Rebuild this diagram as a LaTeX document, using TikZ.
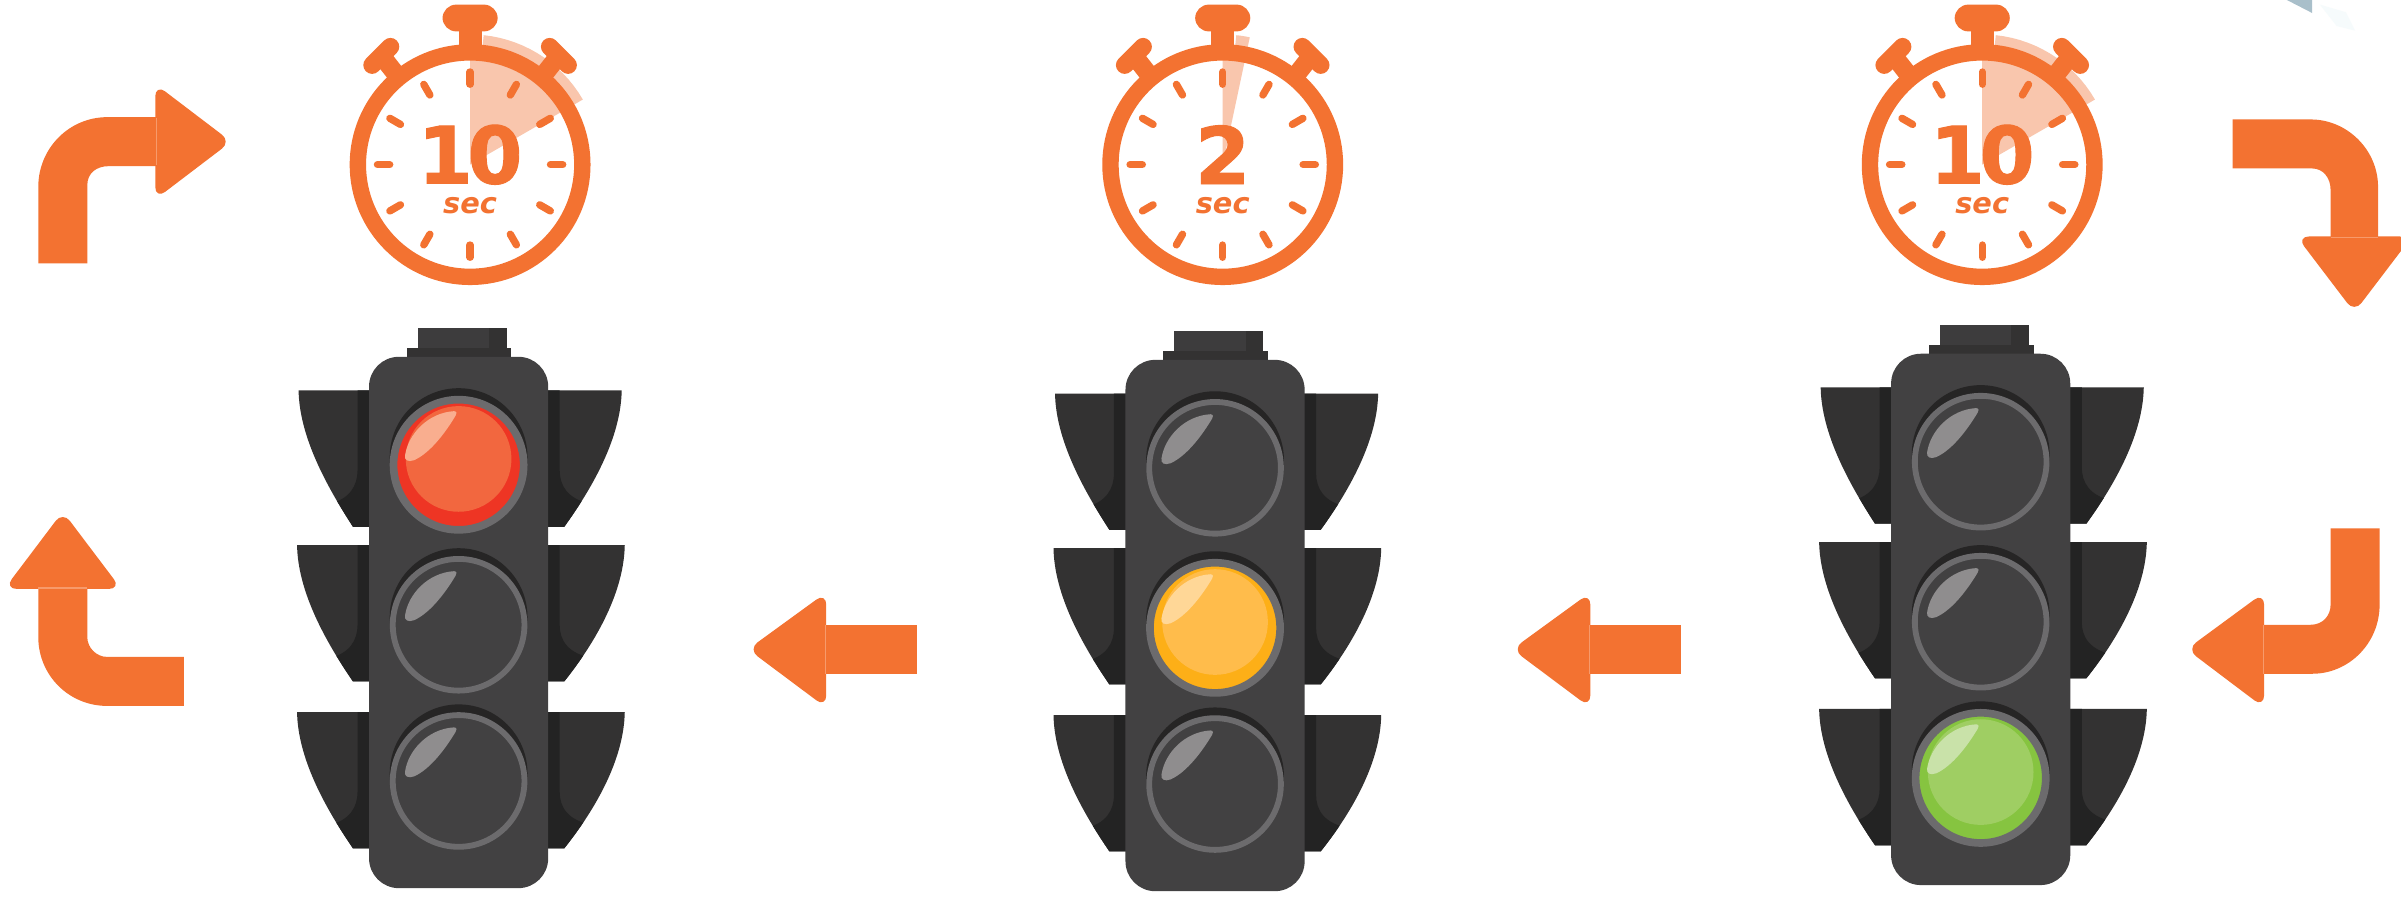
\documentclass[tikz,border=0pt]{standalone}
\usepackage{fontspec}
\newfontfamily\numfont[FakeBold=1.2]{DejaVu Sans Bold}
\newfontfamily\secfont{DejaVu Sans Bold Oblique}
\definecolor{org}{HTML}{F37231}
\definecolor{orgl}{HTML}{F9C6AD}
\definecolor{seamc}{HTML}{F79A6B}
\definecolor{bodyc}{HTML}{424142}
\definecolor{visorc}{HTML}{333232}
\definecolor{visord}{HTML}{232323}
\definecolor{capc}{HTML}{3D3C3D}
\definecolor{ringc}{HTML}{6C6B6D}
\definecolor{shadec}{HTML}{262525}
\definecolor{glint}{HTML}{8F8D8E}
\definecolor{redrim}{HTML}{EE3524}
\definecolor{redin}{HTML}{F2673F}
\definecolor{redgl}{HTML}{F9AE8F}
\definecolor{yelrim}{HTML}{FDAF17}
\definecolor{yelin}{HTML}{FFBC4B}
\definecolor{yelgl}{HTML}{FFD797}
\definecolor{grnrim}{HTML}{86C440}
\definecolor{grnin}{HTML}{9FCE63}
\definecolor{grngl}{HTML}{C9E2A9}
\definecolor{cornerc}{HTML}{A9BFCA}
\definecolor{cornerl}{HTML}{F6FBFC}
\def\uu{0.015313cm}
\tikzset{
  headshape/.style={fill=org,draw=org,line width=0.5pt,rounded corners=3pt,line join=round},
  seamline/.style={draw=seamc,line width=0.35pt},
  ticks/.style={draw=org,line width=4.8*\uu,line cap=round},
  knobs/.style={draw=org,line width=11.5*\uu,line cap=round},
  stems/.style={draw=org,line width=12*\uu},
}
% #1 top y, #2 outer x, #3 side (1 or -1)
\newcommand{\myvisor}[3]{%
  \begin{scope}[xscale=#3]
    \fill[visorc] (58,#1) -- (#2,#1) .. controls (#2-0.5,#1+30) and (#2-18,#1+62) .. (69,#1+89) -- (58,#1+89) -- cycle;
    \begin{scope}
      \clip (58,#1) -- (#2,#1) .. controls (#2-0.5,#1+30) and (#2-18,#1+62) .. (69,#1+89) -- (58,#1+89) -- cycle;
      \fill[visord] (58,#1) -- (66,#1) -- (66,#1+52) .. controls (66,#1+62) and (71,#1+71) .. (#2-20,#1+74) -- (#2-20,#1+95) -- (58,#1+95) -- cycle;
    \end{scope}
  \end{scope}}
\newcommand{\myglint}[1]{%
  \fill[#1] (-35,-6) .. controls (-33,-20) and (-20,-34) .. (-3,-35) .. controls (-1,-35) and (-1,-33) .. (-2,-32) .. controls (-8,-22) and (-18,-8) .. (-29,-3) .. controls (-33,-1.5) and (-35.5,-3) .. (-35,-6) -- cycle;
}
\newcommand{\mylampoff}[1]{%
  \begin{scope}[shift={(0,#1)}]
    \fill[shadec] (0,-5) circle[radius=45];
    \fill[bodyc] (0,0) circle[radius=44.5];
    \draw[ringc,line width=3.8*\uu] (0,0) circle[radius=43];
    \myglint{glint}
  \end{scope}}
\newcommand{\mylampon}[4]{%
  \begin{scope}[shift={(0,#1)}]
    \fill[shadec] (0,-5) circle[radius=45];
    \fill[#2] (0,0) circle[radius=41];
    \draw[ringc,line width=5*\uu] (0,0) circle[radius=42.5];
    \fill[#3] (0,-3.8) circle[radius=34.5];
    \myglint{#4}
  \end{scope}}
\newcommand{\mylightbase}{%
  \myvisor{255}{106.5}{1}\myvisor{255}{104.5}{-1}
  \myvisor{356}{108.5}{1}\myvisor{356}{105.5}{-1}
  \myvisor{465}{108.5}{1}\myvisor{465}{105.5}{-1}
  \fill[capc] (-26.5,214) rectangle (31.5,229);
  \fill[visorc] (20,214) rectangle (31.5,229);
  \fill[visorc] (-34,227) rectangle (34.5,235);
  \fill[bodyc,rounded corners=8.5pt] (-58.5,233) -- (58.5,233) -- (58.5,580) -- (-58.5,580) -- cycle;
}
% #1 x of centre, #2 number, #3 band start angle, #4 end angle, #5 name
\newcommand{\mywatch}[5]{%
  \begin{scope}[shift={(#1,107.5)}]
    \fill[orgl] plot[domain=#3:#4,samples=16] ({85*cos(\x)},{85*sin(\x)}) -- plot[domain=#4:#3,samples=16] ({76*cos(\x)},{76*sin(\x)}) -- cycle;
    \fill[orgl] (0,0) -- plot[domain=-90:#4,samples=16] ({70*cos(\x)},{70*sin(\x)}) -- cycle;
    \fill[org,rounded corners=3.9pt] (-18,-104.5) rectangle (18,-87);
    \fill[org] (-7.5,-90) rectangle (7.5,-72);
    \draw[stems] (-46,-56) -- (-57,-70);
    \draw[stems] (46,-56) -- (57,-70);
    \draw[knobs] (-52,-77) -- (-64,-65);
    \draw[knobs] (52,-77) -- (64,-65);
    \draw[org,line width=10.7*\uu] (0,0) circle[radius=73.3];
    \foreach \a in {0,30,...,330}{
      \draw[ticks] ({52.5*cos(\a)},{52.5*sin(\a)}) -- ({60.5*cos(\a)},{60.5*sin(\a)});
    }
    \node[text=org,inner sep=0pt,font=\numfont\fontsize{22.5}{24}\selectfont] (num#5) at (0,-6.5) {#2};
    \node[text=org,inner sep=0pt,font=\secfont\fontsize{8.2}{9}\selectfont] (sec#5) at (0,27) {sec};
  \end{scope}}
\begin{document}
\begin{tikzpicture}[x=\uu,y=-\uu]
\useasboundingbox (0,0) rectangle (1568,586.4);
\clip (0,0) rectangle (1568,586.4);
\fill[white] (0,0) rectangle (1568,586.4);
% corner remnant
\fill[cornerl] (1515,3) -- (1532,8) -- (1538,20) -- (1526,17) -- cycle;
\fill[cornerc] (1493.5,0) -- (1510,0) -- (1510,8.5) -- cycle;
% traffic lights
\begin{scope}[shift={(299.5,0)}]
  \mylightbase
  \mylampon{303.5}{redrim}{redin}{redgl}
  \mylampoff{408}
  \mylampoff{510}
\end{scope}
\begin{scope}[shift={(793.5,2)}]
  \mylightbase
  \mylampoff{303.5}
  \mylampon{408}{yelrim}{yelin}{yelgl}
  \mylampoff{510}
\end{scope}
\begin{scope}[shift={(1293.5,-2)}]
  \mylightbase
  \mylampoff{303.5}
  \mylampoff{408}
  \mylampon{510}{grnrim}{grnin}{grngl}
\end{scope}
% stopwatches
\mywatch{307}{1\kern-1.5pt 0}{-84}{-30}{a}
\mywatch{798.5}{2}{-84}{-78}{b}
\mywatch{1294.5}{1\kern-1.5pt 0}{-84}{-30}{c}
% elbow arrows
\fill[org] (25,172) -- (25,122) .. controls (25,97) and (45,76.5) .. (70,76.5) -- (102,76.5) -- (102,108.5) -- (71,108.5) .. controls (63,108.5) and (57,113) .. (57,121) -- (57,172) -- cycle;
\filldraw[headshape] (102,56) -- (150,92.5) -- (102,129) -- cycle;
\draw[seamline] (102,77) -- (102,108);
\fill[org] (1458,78) -- (1509,78) .. controls (1533,78) and (1553,98) .. (1553,122) -- (1553,155) -- (1522,155) -- (1522,124) .. controls (1522,116) and (1517,110) .. (1510,110) -- (1458,110) -- cycle;
\filldraw[headshape] (1501,155) -- (1574,155) -- (1537.5,203) -- cycle;
\draw[seamline] (1522,155) -- (1553,155);
\fill[org] (1522,345) -- (1554,345) -- (1554,395) .. controls (1554,420) and (1534,440) .. (1510,440) -- (1478,440) -- (1478,408) -- (1509,408) .. controls (1517,408) and (1522,402) .. (1522,395) -- cycle;
\filldraw[headshape] (1478,388) -- (1429,424) -- (1478,461) -- cycle;
\draw[seamline] (1478,408) -- (1478,440);
\fill[org] (120,429) -- (120,461) -- (70,461) .. controls (45,461) and (25,441) .. (25,416) -- (25,384) -- (57,384) -- (57,416) .. controls (57,423) and (63,429) .. (70,429) -- cycle;
\filldraw[headshape] (41,335) -- (78,384) -- (4,384) -- cycle;
\draw[seamline] (25,384) -- (57,384);
% straight arrows
\fill[org] (599,408) -- (599,440) -- (539,440) -- (539,408) -- cycle;
\filldraw[headshape] (539,388) -- (489.5,424) -- (539,461) -- cycle;
\draw[seamline] (539,408) -- (539,440);
\fill[org] (1098,408) -- (1098,440) -- (1038,440) -- (1038,408) -- cycle;
\filldraw[headshape] (1038,388) -- (988.5,424) -- (1038,461) -- cycle;
\draw[seamline] (1038,408) -- (1038,440);
\end{tikzpicture}
\end{document}
